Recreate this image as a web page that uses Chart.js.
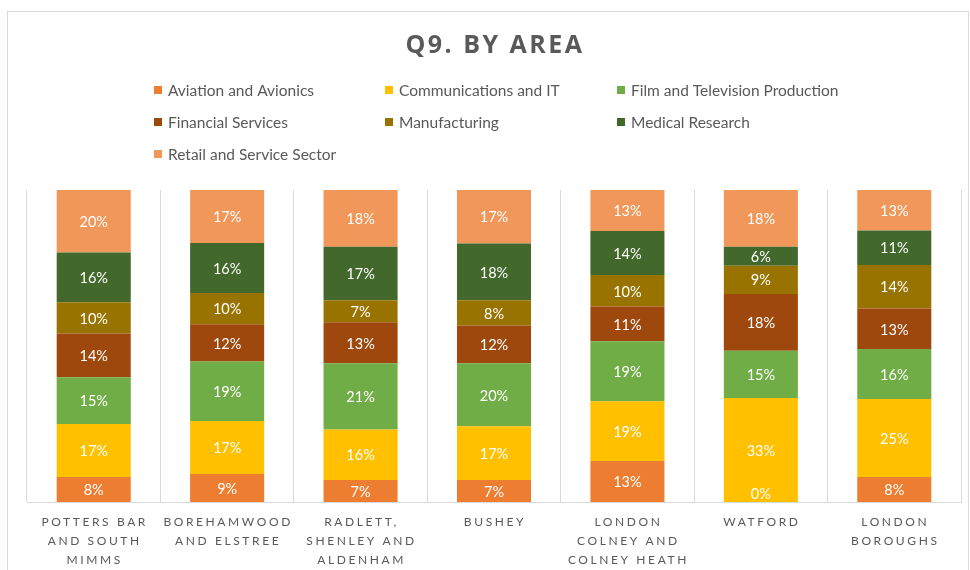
<!DOCTYPE html>
<html lang="en">
<head>
<meta charset="UTF-8" />
<title>Q9. By Area</title>
<script src="https://cdn.jsdelivr.net/npm/chart.js"></script>
<style>
  html, body { margin: 0; padding: 0; background: #fff; }
  #wrap { position: relative; width: 970px; height: 570px; overflow: hidden; }
</style>
</head>
<body>
<div id="wrap"><canvas id="areaChart" width="970" height="570"></canvas></div>
<script>
// area names, split over lines the way they wrap under the axis
const areas = [
    ["POTTERS BAR", "AND SOUTH", "MIMMS"],
    ["BOREHAMWOOD", "AND ELSTREE"],
    ["RADLETT,", "SHENLEY AND", "ALDENHAM"],
    ["BUSHEY"],
    ["LONDON", "COLNEY AND", "COLNEY HEATH"],
    ["WATFORD"],
    ["LONDON", "BOROUGHS"]
];

const seriesNames = [
    "Aviation and Avionics",
    "Communications and IT",
    "Film and Television Production",
    "Financial Services",
    "Manufacturing",
    "Medical Research",
    "Retail and Service Sector"
];

// percentages per area (as printed on the bars)
const aviation      = [8, 9, 7, 7, 13, 0, 8];
const communications = [17, 17, 16, 17, 19, 33, 25];
const film          = [15, 19, 21, 20, 19, 15, 16];
const financial     = [14, 12, 13, 12, 11, 18, 13];
const manufacturing = [10, 10, 7, 8, 10, 9, 14];
const medical       = [16, 16, 17, 18, 14, 6, 11];
const retail        = [20, 17, 18, 17, 13, 18, 13];

const seriesValues = [aviation, communications, film, financial, manufacturing, medical, retail];
const seriesColors = ["#ED7D31", "#FFC000", "#70AD47", "#9E480E", "#997300", "#43682B", "#F1975A"];

const textGrey = "#595959";
const baseFont = "Lato, 'Open Sans', sans-serif";

// 100% stacked: each area is scaled to its own total
const totals = areas.map((a, i) => seriesValues.reduce((s, v) => s + v[i], 0));

const datasets = seriesNames.map((name, k) => ({
    label: name,
    data: seriesValues[k].map((v, i) => v / totals[i] * 100),
    raw: seriesValues[k],
    backgroundColor: seriesColors[k],
    borderWidth: 0,
    categoryPercentage: 1.0,
    barPercentage: 0.555
}));

// outer frame, title and the three-column legend
const frameAndHeader = {
    id: "frameAndHeader",
    beforeDraw(chart) {
        const ctx = chart.ctx;
        ctx.save();
        ctx.strokeStyle = "#d9d9d9";
        ctx.lineWidth = 1;
        ctx.strokeRect(7.5, 11.5, 961, 620);
        ctx.restore();
    },
    afterDraw(chart) {
        const ctx = chart.ctx;
        ctx.save();
        ctx.fillStyle = textGrey;
        ctx.textAlign = "center";
        ctx.textBaseline = "middle";
        ctx.font = "bold 25px 'Open Sans', sans-serif";
        ctx.letterSpacing = "2.5px";
        ctx.fillText("Q9. BY AREA", 495, 46);

        ctx.letterSpacing = "0px";
        ctx.textAlign = "left";
        ctx.font = "15.5px " + baseFont;
        const colX = [155, 386, 618];
        const rowY = [90, 122, 154];
        chart.data.datasets.forEach((ds, k) => {
            const x = colX[k % 3];
            const y = rowY[Math.floor(k / 3)];
            ctx.fillStyle = ds.backgroundColor;
            ctx.fillRect(x - 1, y - 4, 8, 8);
            ctx.fillStyle = textGrey;
            ctx.fillText(ds.label, x + 13, y + 1);
        });
        ctx.restore();
    }
};

// white value labels in each segment and spaced-out area names
const labelsPlugin = {
    id: "labelsPlugin",
    afterDatasetsDraw(chart) {
        const ctx = chart.ctx;
        const bottom = chart.chartArea.bottom;
        ctx.save();
        ctx.fillStyle = "#ffffff";
        ctx.textAlign = "center";
        ctx.textBaseline = "middle";
        ctx.font = "14.5px " + baseFont;
        chart.data.datasets.forEach((ds, k) => {
            chart.getDatasetMeta(k).data.forEach((bar, i) => {
                let cy = (bar.y + bar.base) / 2;
                cy = Math.min(cy, bottom - 9);
                ctx.fillText(ds.raw[i] + "%", bar.x, cy + 1);
            });
        });

        const xScale = chart.scales.x;
        ctx.fillStyle = textGrey;
        ctx.font = "12px " + baseFont;
        ctx.letterSpacing = "2.6px";
        areas.forEach((lines, i) => {
            const x = xScale.getPixelForValue(i);
            lines.forEach((line, j) => {
                ctx.fillText(line, x + 1, 522 + j * 19);
            });
        });
        ctx.restore();
    }
};

new Chart(document.getElementById("areaChart"), {
    type: "bar",
    data: {
        labels: areas.map(a => a.join(" ")),
        datasets: datasets
    },
    options: {
        responsive: false,
        animation: false,
        layout: {
            padding: { left: 27, right: 9, top: 190, bottom: 68 }
        },
        plugins: {
            legend: { display: false },
            title: { display: false },
            tooltip: { enabled: false }
        },
        scales: {
            x: {
                stacked: true,
                grid: {
                    display: true,
                    offset: true,
                    color: "#d9d9d9",
                    drawTicks: false
                },
                border: { display: true, color: "#d9d9d9" },
                ticks: { display: false }
            },
            y: {
                stacked: true,
                display: false,
                min: 0,
                max: 100
            }
        }
    },
    plugins: [frameAndHeader, labelsPlugin]
});
</script>
</body>
</html>
